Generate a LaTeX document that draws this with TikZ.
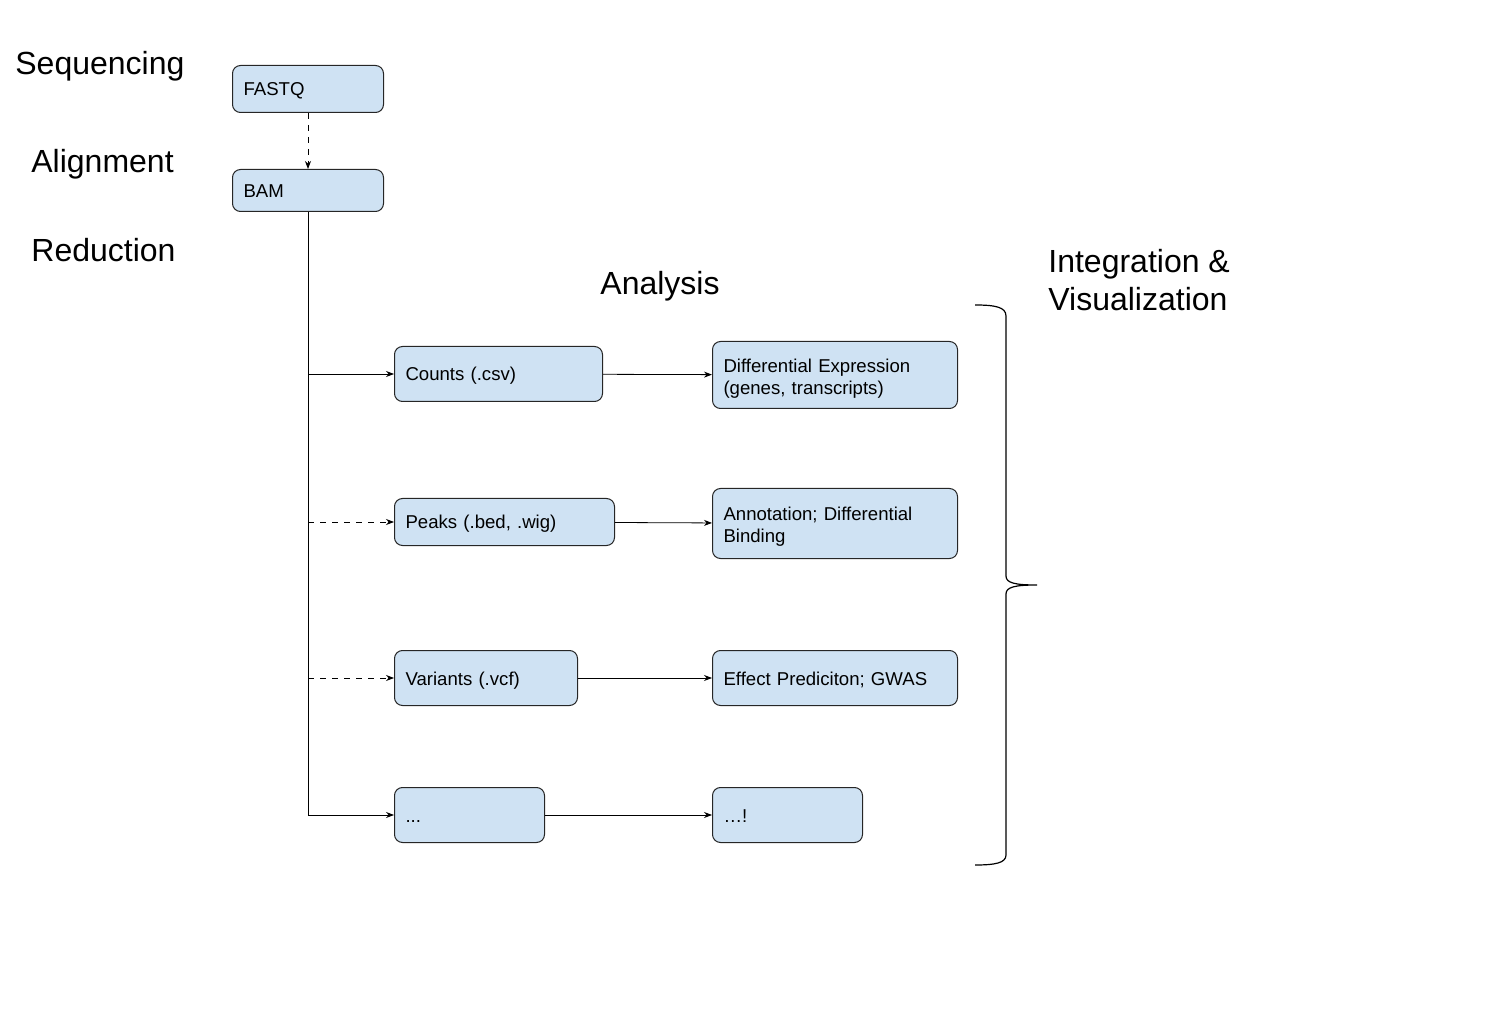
\documentclass[tikz,border=0pt]{standalone}
\usepackage{fontspec}
\setmainfont{Liberation Sans}
\usetikzlibrary{positioning}
\usetikzlibrary{calc}
\usetikzlibrary{arrows.meta}
\definecolor{boxblue}{RGB}{207,226,243}
\tikzset{
    % Small filled arrow heads
    >={Stealth[length=4pt,width=3pt]},
%
    % The rounded boxes holding each kind of file
    file box/.style={
        draw=black!85, line width=0.5pt, fill=boxblue, rounded corners=4pt,
        anchor=north west, align=left, inner xsep=5.5pt, inner ysep=0pt,
        text width=#1, font=\fontsize{9.3}{11}\selectfont},
%
    % Same line height for every one-line box
    one line/.style={text height=8pt, text depth=1pt},
%
    % Stage titles
    stage label/.style={anchor=base west, inner sep=0pt,
        font=\fontsize{16}{19}\selectfont}}

\begin{document}
\begin{tikzpicture}[x=0.5pt, y=-0.5pt]

\useasboundingbox (0,0) rectangle (1494,1021);

\node (seq) [stage label] at (15,75) {Sequencing};
\node (aln) [stage label] at (31,173) {Alignment};
\node (red) [stage label] at (31,262) {Reduction};
\node (ana) [stage label] at (600,295) {Analysis};
\node (int) [stage label] at (1048,273) {Integration \&};
\node (vis) [stage label] at (1048,311) {Visualization};

\node (fastq) [file box=64.5pt, one line, minimum height=23.5pt] at (232,65)
    {FASTQ};
\node (bam) [file box=64.5pt, one line, minimum height=21pt] at (232,169)
    {BAM};

\node (counts) [file box=93pt, one line, minimum height=27.5pt] at (394,346)
    {Counts (.csv)};
\node (peaks) [file box=99pt, one line, minimum height=23.5pt] at (394,498)
    {Peaks (.bed, .wig)};
\node (vars) [file box=80.5pt, one line, minimum height=27.5pt] at (394,650)
    {Variants (.vcf)};
\node (more) [file box=64pt, one line, minimum height=27.5pt] at (394,787)
    {...};

\node (de) [file box=111.5pt, minimum height=33.5pt] at (712,341)
    {\rule{0pt}{10pt}Differential Expression\\(genes, transcripts)};
\node (annot) [file box=111.5pt, minimum height=35pt] at (712,488)
    {\rule{0pt}{10pt}Annotation; Differential\\Binding};
\node (eff) [file box=111.5pt, one line, minimum height=27.5pt] at (712,650)
    {Effect Prediciton; GWAS};
\node (moremore) [file box=64pt, one line, minimum height=27.5pt] at (712,787)
    {…!};

\draw [->, dashed] (fastq) -- (bam);

\draw [->] (bam.south) |- (more.west);
\draw [->] (bam.south |- counts.west) -- (counts.west);
\draw [->, dashed] (bam.south |- peaks.west) -- (peaks.west);
\draw [->, dashed] (bam.south |- vars.west) -- (vars.west);

\draw [->] (counts) -- (de);
\draw [->] (peaks) -- (annot);
\draw [->] (vars) -- (eff);
\draw [->] (more) -- (moremore);

% brace round the analysis results
\draw [line width=0.6pt] (975,305) .. controls (995,305) and (1006,307) .. (1006,316)
    -- (1006,576) .. controls (1006,583) and (1015,585) .. (1037,585)
    .. controls (1015,585) and (1006,587) .. (1006,594)
    -- (1006,855) .. controls (1006,863) and (995,865) .. (975,865);

\end{tikzpicture}
\end{document}
